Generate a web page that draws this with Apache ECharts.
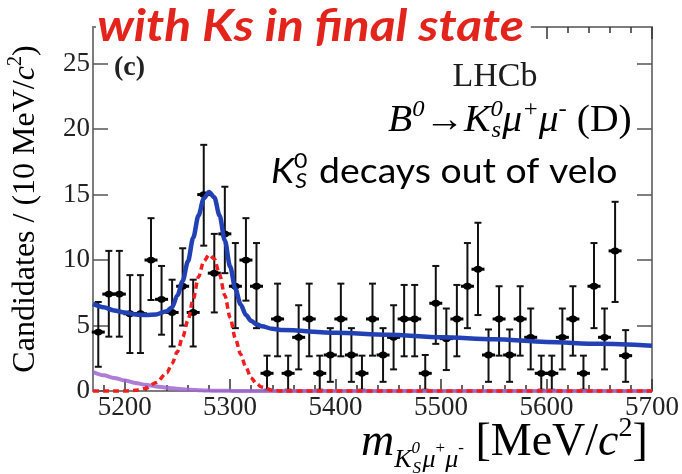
<!DOCTYPE html>
<html><head><meta charset="utf-8">
<script src="https://cdn.jsdelivr.net/npm/echarts@6/dist/echarts.min.js"></script>
<style>html,body{margin:0;padding:0;background:#fff}#c{width:682px;height:474px}</style>
</head><body><div id="c"></div>
<script>
// ---- data ----
const massBins = [5175,5185,5195,5205,5215,5225,5235,5245,5255,5265,5275,5285,5295,5305,5315,5325,5335,5345,5355,5365,5375,5385,5395,5405,5415,5425,5435,5445,5455,5465,5475,5485,5495,5505,5515,5525,5535,5545,5555,5565,5575,5585,5595,5605,5615,5625,5635,5645,5655,5665,5675,5685,5695];
const counts   = [4.5,7.4,7.4,5.9,5.9,10.0,7.0,6.0,8.0,6.0,15.0,9.0,12.0,8.0,10.0,8.0,1.35,5.5,1.35,4.1,5.5,1.35,2.75,5.5,2.75,1.35,5.5,2.75,4.1,5.5,5.5,1.35,6.7,4.0,5.5,8.0,9.3,2.75,5.5,2.75,5.5,4.1,1.35,1.35,4.1,5.5,1.35,8.0,4.1,10.7,2.7,null,null];
const errLow   = [1.85,4.15,4.15,2.9,2.9,6.95,4.3,3.4,5.0,3.4,11.1,6.0,9.0,4.8,6.9,4.8,0.1,2.65,0.1,1.65,2.65,0.1,0.7,2.65,0.7,0.1,2.7,0.7,1.65,2.65,2.65,0.1,3.6,1.6,2.65,4.8,5.8,0.7,2.7,0.7,2.7,1.65,0.1,0.1,1.65,2.7,0.1,4.8,1.65,6.8,0.7,null,null];
const errHigh  = [6.8,10.7,10.7,8.85,8.85,13.2,9.55,8.5,10.9,8.5,18.8,12.0,15.6,11.3,13.2,11.3,2.7,8.2,2.7,6.55,8.2,2.7,4.8,8.2,4.8,2.7,8.2,4.8,6.55,8.1,8.1,2.75,9.55,6.3,8.1,11.3,12.85,4.7,8.0,4.7,8.0,6.3,2.7,2.7,6.3,8.0,2.7,11.3,6.3,14.45,4.65,null,null];

const fitMass   = [5170,5180,5190,5200,5210,5220,5230,5240,5245,5250,5255,5260,5265,5270,5275,5280,5285,5290,5295,5300,5305,5310,5315,5320,5325,5330,5340,5350,5400,5450,5500,5550,5600,5650,5700];
const totalFit  = [6.65,6.4,6.15,6.0,5.85,5.8,5.85,6.1,6.4,7.3,8.4,9.9,11.7,13.4,14.7,15.2,14.8,13.4,11.5,9.5,7.8,6.6,5.8,5.35,5.1,4.95,4.75,4.65,4.45,4.3,4.1,3.95,3.75,3.6,3.45];
const signalFit = [0,0,0,0,0.05,0.2,0.65,1.4,2.1,3.0,4.1,5.4,7.0,8.7,9.9,10.4,10.1,8.9,7.3,5.6,4.0,2.8,1.8,1.0,0.55,0.3,0.05,0,0,0,0,0,0,0,0];
const partRecoBkg = [1.45,1.2,1.0,0.8,0.62,0.47,0.35,0.25,0.21,0.17,0.13,0.1,0.08,0.06,0.045,0.03,0.025,0.02,0.015,0.01,0.008,0.005,0,0,0,0,0,0,0,0,0,0,0,0,0];

const xMajorTicks = [5200,5300,5400,5500,5600,5700];
const xMinorTicks = [5180,5220,5240,5260,5280,5320,5340,5360,5380,5420,5440,5460,5480,5520,5540,5560,5580,5620,5640,5660,5680];
const yTicks = [0,5,10,15,20,25];

// ---- chart ----
const chart = echarts.init(document.getElementById('c'), null, {renderer:'canvas'});
const AX = '#7d7d7d';
const SERIF = 'Liberation Serif';
const INK = '#1c1c1c';
const pts = massBins.map((m,i)=>[m,counts[i],errLow[i],errHigh[i]]).filter(d=>d[1]!=null);
const zip = (ys)=>fitMass.map((m,i)=>[m,ys[i]]);

function xAxisDef(pos, ticks, len, showLine, showLabel){
  return {type:'value', position:pos, min:5170, max:5700, gridIndex:0,
    axisLine:{show:showLine, onZero:false, lineStyle:{color:AX,width:2}},
    axisTick:{show:true, inside:true, length:len, customValues:ticks, lineStyle:{color:'#333',width:1.5}},
    axisLabel:{show:showLabel, customValues:xMajorTicks, formatter:(v)=>String(v), fontFamily:SERIF, fontSize:27, color:'#222', margin:3},
    splitLine:{show:false}};
}
function yAxisDef(pos, showLabel){
  return {type:'value', position:pos, min:0, max:27.8,
    axisLine:{show:true, onZero:false, lineStyle:{color:AX,width:2}},
    axisTick:{show:true, inside:true, length:15, customValues:yTicks, lineStyle:{color:'#555',width:1.5}},
    axisLabel:{show:showLabel, customValues:yTicks, formatter:(v)=>String(v), fontFamily:SERIF, fontSize:27, color:'#222', margin:3},
    splitLine:{show:false}};
}
function tok(size, italic, pad, width, fam){
  const o = {fontFamily:fam||SERIF, fontSize:size, color:INK, lineHeight:size, verticalAlign:'middle', align:'left'};
  if (italic) o.fontStyle='italic';
  if (pad) o.padding=pad;
  if (width!=null) o.width=width;
  return o;
}

const option = {
  animation:false,
  backgroundColor:'#fff',
  grid:{left:93, right:30, top:27, bottom:83},
  xAxis:[xAxisDef('bottom',xMajorTicks,12,true,true), xAxisDef('bottom',xMinorTicks,6,false,false),
         xAxisDef('top',xMajorTicks,12,true,false), xAxisDef('top',xMinorTicks,6,false,false)],
  yAxis:[yAxisDef('left',true), yAxisDef('right',false)],
  graphic:[
    {type:'text', x:96, y:27, scaleX:1.13, z:100, zlevel:0,
      style:{text:'with Ks in final state', font:'italic bold 44px Lato', fill:'#e3241c', align:'left', verticalAlign:'middle',
        backgroundColor:'#fff', padding:[0,6,0,1]}},
    {type:'text', left:114, top:54, z:50, style:{text:'(c)', font:'bold 28px "Liberation Serif"', fill:'#222'}},
    {type:'text', x:495, y:77, z:50, style:{text:'LHCb', font:'34px "Liberation Serif"', fill:INK, align:'center', verticalAlign:'middle'}},
    {type:'text', x:388, y:121, scaleX:1.07, z:50, style:{text:'{i|B}{sp|0}{n|→}{i|K}{sp0|0}{sb|s}{i|μ}{sp|+}{i|μ}{sp|-}{n| (D)}', align:'left', verticalAlign:'middle',
      rich:{n:tok(37,false), i:tok(37,true), sp:tok(23,true,[0,0,22,0]), sp0:tok(23,true,[0,0,22,0],1), sb:tok(23,true,[20,0,0,0],10)}}},
    {type:'text', x:271, y:172, scaleX:1.1, z:50, style:{text:'{k|K}{k0|0}{ks|S}{t| decays out of velo}', align:'left', verticalAlign:'middle',
      rich:{k:tok(34,true,null,null,'Lato'), k0:tok(21,false,[0,0,21,0],1,'Lato'), ks:tok(21,true,[19,0,0,0],13,'Lato'), t:tok(34,false,null,null,'Lato')}}},
    {type:'text', x:26, y:209, rotation:Math.PI/2, z:50, style:{text:'{n|Candidates / (10 MeV/}{i|c}{s|2}{n|)}', align:'center', verticalAlign:'middle',
      rich:{n:tok(32,false), i:tok(32,true), s:tok(20,false,[0,0,20,0])}}},
    {type:'text', x:361, y:443, z:50, style:{text:'{m|m}{sb|K}{sb0|0}{sbs|S}{sb|μ}{sbp|+}{sb|μ}{sbp|-}{n| [MeV/}{i|c}{sp|2}{n|]}', align:'left', verticalAlign:'middle',
      rich:{m:tok(46,true), n:tok(46,false), i:tok(46,true), sp:tok(28,false,[0,0,28,0]),
            sb:tok(26,true,[34,0,0,0]), sb0:tok(17,true,[12,0,0,0],1), sbs:tok(17,true,[52,0,0,0],10), sbp:tok(17,false,[12,0,0,0])}}}
  ],
  series:[
    {type:'custom', name:'data', xAxisIndex:0, yAxisIndex:0, z:3, clip:false,
      data:pts, encode:{x:0,y:1},
      renderItem:function(params, api){
        const x=api.value(0), v=api.value(1), lo=api.value(2), hi=api.value(3);
        const p=api.coord([x,v]), pl=api.coord([x,lo]), ph=api.coord([x,hi]);
        const st={stroke:'#111',lineWidth:2};
        return {type:'group', children:[
          {type:'line', shape:{x1:p[0],y1:pl[1],x2:p[0],y2:ph[1]}, style:st},
          {type:'line', shape:{x1:p[0]-3.5,y1:pl[1],x2:p[0]+3.5,y2:pl[1]}, style:st},
          {type:'line', shape:{x1:p[0]-3.5,y1:ph[1],x2:p[0]+3.5,y2:ph[1]}, style:st},
          {type:'line', shape:{x1:p[0]-6.5,y1:p[1],x2:p[0]+6.5,y2:p[1]}, style:{stroke:'#000',lineWidth:3}},
          {type:'ellipse', shape:{cx:p[0],cy:p[1],rx:4.5,ry:3.4}, style:{fill:'#000'}}
        ]};
      }},
    {type:'line', name:'partreco', data:zip(partRecoBkg), xAxisIndex:0, yAxisIndex:0, z:4, clip:false, symbol:'none', smooth:0.3, smoothMonotone:'x',
      lineStyle:{color:'#a066d0', width:4, opacity:0.85}},
    {type:'line', name:'signal', data:zip(signalFit), xAxisIndex:0, yAxisIndex:0, z:5, clip:false, symbol:'none', smooth:0.3, smoothMonotone:'x',
      lineStyle:{color:'#f01e1e', width:3.5, type:[6,4]}},
    {type:'line', name:'total', data:zip(totalFit), xAxisIndex:0, yAxisIndex:0, z:6, clip:false, symbol:'none', smooth:0.3, smoothMonotone:'x',
      lineStyle:{color:'#2241b5', width:4.5}}
  ]
};
chart.setOption(option);
</script></body></html>
